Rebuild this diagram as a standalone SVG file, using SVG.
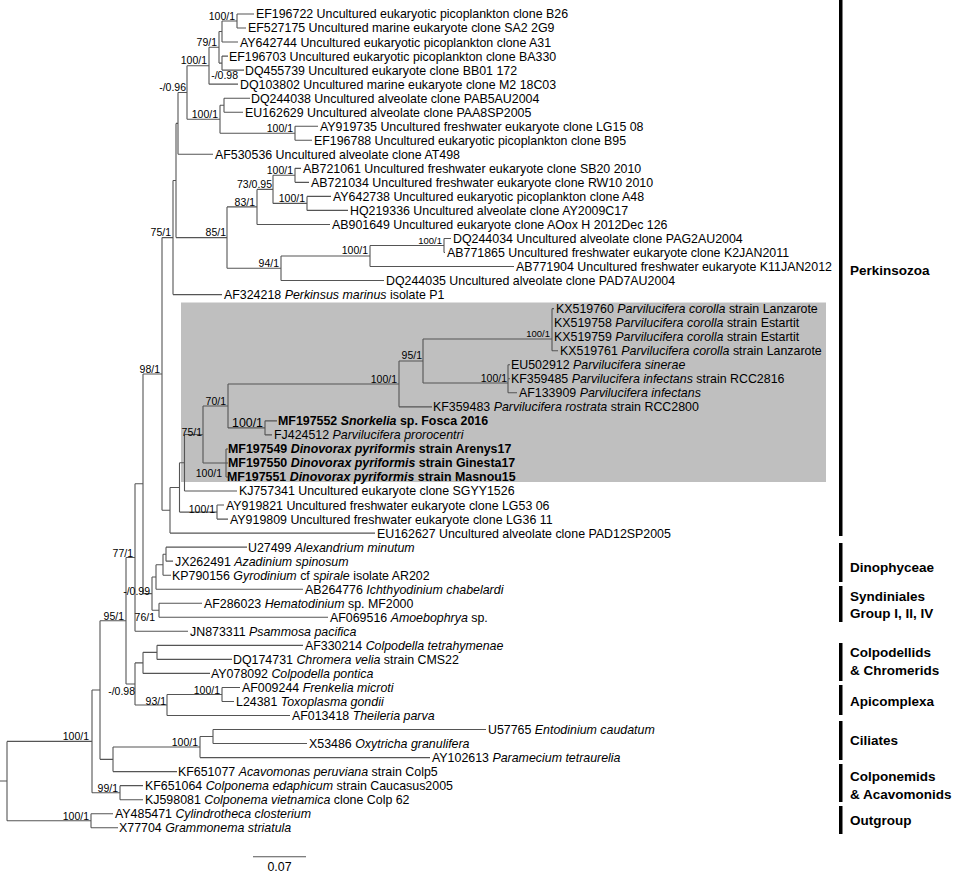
<svg xmlns="http://www.w3.org/2000/svg" width="964" height="873" viewBox="0 0 964 873">
<style>
text{font-family:"Liberation Sans",Arial,sans-serif;fill:#000}
.lf{font-size:12.4px}
.b{font-weight:bold}
.bs{font-size:10.5px;text-anchor:end}
.cl{font-size:13.5px;font-weight:bold}
.br{fill:none;stroke:#555;stroke-width:1.1}
.bar{fill:#000}
</style>
<rect x="181" y="302.5" width="645" height="179.5" fill="#bfbfbf"/>
<g id="connectors" class="br">
<path d="M0 781H7M7 741.4V820.7M7 741.4H92M7 820.7H91"/>
<path d="M92 690V792.7M92 690H100M92 792.7H120"/>
<path d="M120 785.65V799.68M120 785.65H143M120 799.68H143"/>
<path d="M91 813.71V827.74M91 813.71H113M91 827.74H118"/>
<path d="M100 620.75V759.35M100 620.75H126M100 759.35H113"/>
<path d="M113 747.07V771.62M113 747.07H200M113 771.62H177"/>
<path d="M200 736.5V757.59M200 736.5H213M200 757.59H430"/>
<path d="M213 729.53V743.56M213 729.53H486M213 743.56H307"/>
<path d="M126 557.56V683.94M126 557.56H135M126 683.94H135"/>
<path d="M135 662.89V704.98M135 662.89H143M135 704.98H167"/>
<path d="M143 652.37V673.41M143 652.37H157M143 673.41H210"/>
<path d="M157 645.35V659.38M157 645.35H303M157 659.38H232"/>
<path d="M167 694.45V715.5M167 694.45H222M167 715.5H290"/>
<path d="M222 687.44V701.47M222 687.44H240M222 701.47H234"/>
<path d="M135 483.8V631.32M135 483.8H143M135 631.32H188"/>
<path d="M143 373.95V593.6M143 373.95H162M143 593.6H152"/>
<path d="M152 576.97V610.28M152 576.97H156M152 610.28H159"/>
<path d="M159 603.26V617.29M159 603.26H202M159 617.29H328"/>
<path d="M156 564.7V589.23M156 564.7H163M156 589.23H303"/>
<path d="M163 554.2V575.2M163 554.2H166M163 575.2H171"/>
<path d="M166 547.14V561.17M166 547.14H247M166 561.17H173"/>
<path d="M162 237.6V510.3M162 237.6H173M162 510.3H170"/>
<path d="M170 487.45V533.11M170 487.45H179.5M170 533.11H375"/>
<path d="M179.5 462.8V512.1M179.5 462.8H184.5M179.5 512.1H217"/>
<path d="M217 505.05V519.08M217 505.05H224M217 519.08H228"/>
<path d="M184.5 434.5V491.02M184.5 434.5H203M184.5 491.02H237"/>
<path d="M203 406V463M203 406H228M203 463H226"/>
<path d="M226 448.93V476.99M226 448.93H228M226 462.96H228M226 476.99H228"/>
<path d="M228 384V427.9M228 384H399M228 427.9H265"/>
<path d="M265 420.87V434.9M265 420.87H277M265 434.9H272"/>
<path d="M399 361V406.84M399 361H423M399 406.84H432"/>
<path d="M423 339V383M423 339H552M423 383H508"/>
<path d="M552 308.63V350.72M552 308.63H554M552 350.72H558"/>
<path d="M508 364.75V392.81M508 364.75H510M508 378.78H510M508 392.81H517"/>
<path d="M173 180.5V294.6M173 180.5H176M173 294.6H222"/>
<path d="M176 123.4V237.6M176 123.4H178M176 237.6H227"/>
<path d="M227 206.9V268.3M227 206.9H257M227 268.3H281"/>
<path d="M281 256V280.57M281 256H370M281 280.57H384"/>
<path d="M370 245.5V266.54M370 245.5H444M370 266.54H514"/>
<path d="M444 238.48V252.51M444 238.48H451M444 252.51H445"/>
<path d="M257 189.4V224.45M257 189.4H273M257 224.45H330"/>
<path d="M273 175.3V203.4M273 175.3H295M273 203.4H307"/>
<path d="M295 168.33V182.36M295 168.33H301M295 182.36H309"/>
<path d="M307 196.39V210.42M307 196.39H331M307 210.42H348"/>
<path d="M178 92.5V154.3M178 92.5H187M178 154.3H213"/>
<path d="M187 65.7V119.2M187 65.7H209M187 119.2H220"/>
<path d="M220 105.2V133.3M220 105.2H224M220 133.3H295"/>
<path d="M295 126.24V140.27M295 126.24H318M295 140.27H312"/>
<path d="M224 98.18V112.21M224 98.18H250M224 112.21H243"/>
<path d="M209 47.3V84.15M209 47.3H219M209 84.15H238"/>
<path d="M219 31.5V63.1M219 31.5H222M219 63.1H222"/>
<path d="M222 56.09V70.12M222 56.09H228M222 70.12H244"/>
<path d="M222 21V42.06M222 21H237M222 42.06H238"/>
<path d="M237 14V28.03M237 14H254M237 28.03H246"/>
<path d="M253 856.7H306"/>
</g>
<g id="support">
<text class="bs" x="235" y="19.5">100/1</text>
<text class="bs" x="217" y="45.8">79/1</text>
<text class="bs" x="238" y="79">-/0.98</text>
<text class="bs" x="207" y="64">100/1</text>
<text class="bs" x="186" y="91">-/0.96</text>
<text class="bs" x="218" y="117.7">100/1</text>
<text class="bs" x="293" y="131.5">100/1</text>
<text class="bs" x="293" y="173.8">100/1</text>
<text class="bs" x="272" y="187.8">73/0.95</text>
<text class="bs" x="305" y="201.8">100/1</text>
<text class="bs" x="255" y="205.5">83/1</text>
<text class="bs" x="226" y="236">85/1</text>
<text class="bs" x="279" y="266.8">94/1</text>
<text class="bs" x="368" y="254.3">100/1</text>
<text class="bs" x="442" y="243.5" style="font-size:9.5px">100/1</text>
<text class="bs" x="171" y="236">75/1</text>
<text class="bs" x="160" y="372.5">98/1</text>
<text class="bs" x="550" y="336.8" style="font-size:9.5px">100/1</text>
<text class="bs" x="422" y="359">95/1</text>
<text class="bs" x="507" y="381.8">100/1</text>
<text class="bs" x="397" y="382.5">100/1</text>
<text class="bs" x="226" y="404.5">70/1</text>
<text class="bs" x="263" y="427" style="font-size:12.4px">100/1</text>
<text class="bs" x="202" y="435.8">75/1</text>
<text class="bs" x="222" y="477">100/1</text>
<text class="bs" x="215" y="512.6">100/1</text>
<text class="bs" x="133" y="556.5">77/1</text>
<text class="bs" x="150" y="594.8">-/0.99</text>
<text class="bs" x="155" y="621">76/1</text>
<text class="bs" x="124" y="620">95/1</text>
<text class="bs" x="135" y="694.8">-/0.98</text>
<text class="bs" x="166" y="704.8">93/1</text>
<text class="bs" x="220" y="693.8">100/1</text>
<text class="bs" x="198" y="746.2">100/1</text>
<text class="bs" x="89" y="740">100/1</text>
<text class="bs" x="118" y="791.5">99/1</text>
<text class="bs" x="89" y="819.5">100/1</text>
</g>
<g id="leaves" class="lf">
<g id="n1"><text class="lf" x="256" y="18.4">EF196722 Uncultured eukaryotic picoplankton clone B26</text></g>
<g id="n2"><text class="lf" x="248" y="32.4">EF527175 Uncultured marine eukaryote clone SA2 2G9</text></g>
<g id="n3"><text class="lf" x="240" y="46.5">AY642744 Uncultured eukaryotic picoplankton clone A31</text></g>
<g id="n4"><text class="lf" x="229" y="60.5">EF196703 Uncultured eukaryotic picoplankton clone BA330</text></g>
<g id="n5"><text class="lf" x="245" y="74.5">DQ455739 Uncultured eukaryote clone BB01 172</text></g>
<g id="n6"><text class="lf" x="240" y="88.6">DQ103802 Uncultured marine eukaryote clone M2 18C03</text></g>
<g id="n7"><text class="lf" x="251" y="102.6">DQ244038 Uncultured alveolate clone PAB5AU2004</text></g>
<g id="n8"><text class="lf" x="245" y="116.6">EU162629 Uncultured alveolate clone PAA8SP2005</text></g>
<g id="n9"><text class="lf" x="320" y="130.6">AY919735 Uncultured freshwater eukaryote clone LG15 08</text></g>
<g id="n10"><text class="lf" x="314" y="144.7">EF196788 Uncultured eukaryotic picoplankton clone B95</text></g>
<g id="n11"><text class="lf" x="215" y="158.7">AF530536 Uncultured alveolate clone AT498</text></g>
<g id="n12"><text class="lf" x="303" y="172.7">AB721061 Uncultured freshwater eukaryote clone SB20 2010</text></g>
<g id="n13"><text class="lf" x="311" y="186.8">AB721034 Uncultured freshwater eukaryote clone RW10 2010</text></g>
<g id="n14"><text class="lf" x="333" y="200.8">AY642738 Uncultured eukaryotic picoplankton clone A48</text></g>
<g id="n15"><text class="lf" x="350" y="214.8">HQ219336 Uncultured alveolate clone AY2009C17</text></g>
<g id="n16"><text class="lf" x="332" y="228.9">AB901649 Uncultured eukaryote clone AOox H 2012Dec 126</text></g>
<g id="n17"><text class="lf" x="453" y="242.9">DQ244034 Uncultured alveolate clone PAG2AU2004</text></g>
<g id="n18"><text class="lf" x="447" y="256.9">AB771865 Uncultured freshwater eukaryote clone K2JAN2011</text></g>
<g id="n19"><text class="lf" x="516" y="270.9">AB771904 Uncultured freshwater eukaryote K11JAN2012</text></g>
<g id="n20"><text class="lf" x="386" y="285">DQ244035 Uncultured alveolate clone PAD7AU2004</text></g>
<g id="n21"><text class="lf" x="224" y="299">AF324218 <tspan font-style="italic">Perkinsus marinus</tspan> isolate P1</text></g>
<g id="n22"><text class="lf" x="556" y="313">KX519760 <tspan font-style="italic">Parvilucifera corolla</tspan> strain Lanzarote</text></g>
<g id="n23"><text class="lf" x="554" y="327.1">KX519758 <tspan font-style="italic">Parvilucifera corolla</tspan> strain Estartit</text></g>
<g id="n24"><text class="lf" x="554" y="341.1">KX519759 <tspan font-style="italic">Parvilucifera corolla</tspan> strain Estartit</text></g>
<g id="n25"><text class="lf" x="560" y="355.1">KX519761 <tspan font-style="italic">Parvilucifera corolla</tspan> strain Lanzarote</text></g>
<g id="n26"><text class="lf" x="511" y="369.2">EU502912 <tspan font-style="italic">Parvilucifera sinerae</tspan></text></g>
<g id="n27"><text class="lf" x="511" y="383.2">KF359485 <tspan font-style="italic">Parvilucifera infectans</tspan> strain RCC2816</text></g>
<g id="n28"><text class="lf" x="519" y="397.2">AF133909 <tspan font-style="italic">Parvilucifera infectans</tspan></text></g>
<g id="n29"><text class="lf" x="433" y="411.2">KF359483 <tspan font-style="italic">Parvilucifera rostrata</tspan> strain RCC2800</text></g>
<g id="n30"><text class="lf b" x="278" y="425.3">MF197552 <tspan font-style="italic">Snorkelia</tspan> sp. Fosca 2016</text></g>
<g id="n31"><text class="lf" x="274" y="439.3">FJ424512 <tspan font-style="italic">Parvilucifera prorocentri</tspan></text></g>
<g id="n32"><text class="lf b" x="228" y="453.3">MF197549 <tspan font-style="italic">Dinovorax pyriformis</tspan> strain Arenys17</text></g>
<g id="n33"><text class="lf b" x="228" y="467.4">MF197550 <tspan font-style="italic">Dinovorax pyriformis</tspan> strain Ginesta17</text></g>
<g id="n34"><text class="lf b" x="227" y="481.4">MF197551 <tspan font-style="italic">Dinovorax pyriformis</tspan> strain Masnou15</text></g>
<g id="n35"><text class="lf" x="239" y="495.4">KJ757341 Uncultured eukaryote clone SGYY1526</text></g>
<g id="n36"><text class="lf" x="226" y="509.5">AY919821 Uncultured freshwater eukaryote clone LG53 06</text></g>
<g id="n37"><text class="lf" x="230" y="523.5">AY919809 Uncultured freshwater eukaryote clone LG36 11</text></g>
<g id="n38"><text class="lf" x="377" y="537.5">EU162627 Uncultured alveolate clone PAD12SP2005</text></g>
<g id="n39"><text class="lf" x="248" y="551.5">U27499 <tspan font-style="italic">Alexandrium minutum</tspan></text></g>
<g id="n40"><text class="lf" x="175" y="565.6">JX262491 <tspan font-style="italic">Azadinium spinosum</tspan></text></g>
<g id="n41"><text class="lf" x="172" y="579.6">KP790156 <tspan font-style="italic">Gyrodinium</tspan> cf <tspan font-style="italic">spirale</tspan> isolate AR202</text></g>
<g id="n42"><text class="lf" x="305" y="593.6">AB264776 <tspan font-style="italic">Ichthyodinium chabelardi</tspan></text></g>
<g id="n43"><text class="lf" x="204" y="607.7">AF286023 <tspan font-style="italic">Hematodinium</tspan> sp. MF2000</text></g>
<g id="n44"><text class="lf" x="330" y="621.7">AF069516 <tspan font-style="italic">Amoebophrya</tspan> sp.</text></g>
<g id="n45"><text class="lf" x="190" y="635.7">JN873311 <tspan font-style="italic">Psammosa pacifica</tspan></text></g>
<g id="n46"><text class="lf" x="305" y="649.8">AF330214 <tspan font-style="italic">Colpodella tetrahymenae</tspan></text></g>
<g id="n47"><text class="lf" x="233" y="663.8">DQ174731 <tspan font-style="italic">Chromera velia</tspan> strain CMS22</text></g>
<g id="n48"><text class="lf" x="211" y="677.8">AY078092 <tspan font-style="italic">Colpodella pontica</tspan></text></g>
<g id="n49"><text class="lf" x="242" y="691.8">AF009244 <tspan font-style="italic">Frenkelia microti</tspan></text></g>
<g id="n50"><text class="lf" x="236" y="705.9">L24381 <tspan font-style="italic">Toxoplasma gondii</tspan></text></g>
<g id="n51"><text class="lf" x="292" y="719.9">AF013418 <tspan font-style="italic">Theileria parva</tspan></text></g>
<g id="n52"><text class="lf" x="488" y="733.9">U57765 <tspan font-style="italic">Entodinium caudatum</tspan></text></g>
<g id="n53"><text class="lf" x="309" y="748">X53486 <tspan font-style="italic">Oxytricha granulifera</tspan></text></g>
<g id="n54"><text class="lf" x="432" y="762">AY102613 <tspan font-style="italic">Paramecium tetraurelia</tspan></text></g>
<g id="n55"><text class="lf" x="178" y="776">KF651077 <tspan font-style="italic">Acavomonas peruviana</tspan> strain Colp5</text></g>
<g id="n56"><text class="lf" x="145" y="790.1">KF651064 <tspan font-style="italic">Colponema edaphicum</tspan> strain Caucasus2005</text></g>
<g id="n57"><text class="lf" x="145" y="804.1">KJ598081 <tspan font-style="italic">Colponema vietnamica</tspan> clone Colp 62</text></g>
<g id="n58"><text class="lf" x="115" y="818.1">AY485471 <tspan font-style="italic">Cylindrotheca closterium</tspan></text></g>
<g id="n59"><text class="lf" x="119" y="832.1">X77704 <tspan font-style="italic">Grammonema striatula</tspan></text></g>
</g>
<g id="scale"><text class="lf" x="279.5" y="871" text-anchor="middle">0.07</text></g>
<g id="clades">
<g id="c-perk"><rect class="bar" x="839" y="0" width="3.5" height="536"/><text class="cl" x="850" y="275">Perkinsozoa</text></g>
<g id="c-dino"><rect class="bar" x="839" y="543" width="3.5" height="39"/><text class="cl" x="850" y="572">Dinophyceae</text></g>
<g id="c-synd"><rect class="bar" x="839" y="586" width="3.5" height="36"/><text class="cl" x="850" y="601">Syndiniales</text><text class="cl" x="850" y="618">Group I, II, IV</text></g>
<g id="c-colp"><rect class="bar" x="839" y="643" width="3.5" height="38"/><text class="cl" x="850" y="657">Colpodellids</text><text class="cl" x="850" y="675">&amp; Chromerids</text></g>
<g id="c-api"><rect class="bar" x="839" y="685" width="3.5" height="30"/><text class="cl" x="850" y="706">Apicomplexa</text></g>
<g id="c-cil"><rect class="bar" x="839" y="721" width="3.5" height="39"/><text class="cl" x="850" y="745">Ciliates</text></g>
<g id="c-colpon"><rect class="bar" x="839" y="764" width="3.5" height="38"/><text class="cl" x="850" y="781">Colponemids</text><text class="cl" x="850" y="799">&amp; Acavomonids</text></g>
<g id="c-out"><rect class="bar" x="839" y="806" width="3.5" height="28"/><text class="cl" x="850" y="825">Outgroup</text></g>
</g>
</svg>
